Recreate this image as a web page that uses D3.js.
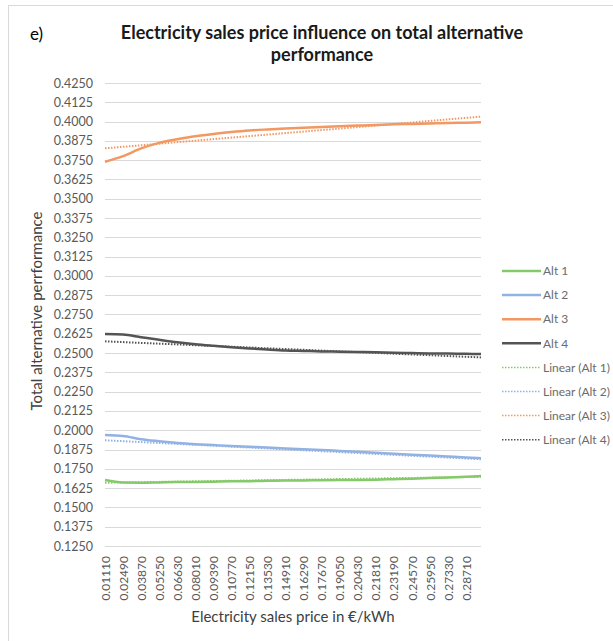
<!DOCTYPE html>
<html>
<head>
<meta charset="utf-8">
<script src="https://cdn.jsdelivr.net/npm/d3@7"></script>
<style>
  body { margin: 0; background: #fff; }
  .chart text { font-family: Lato, "Open Sans", sans-serif; }
  .axis text { fill: #595959; }
</style>
</head>
<body>
<div class="chart" id="chart"></div>
<script>
// x tick labels (electricity sales price in €/kWh)
const priceTicks = [0.01110, 0.02490, 0.03870, 0.05250, 0.06630, 0.08010, 0.09390,
  0.10770, 0.12150, 0.13530, 0.14910, 0.16290, 0.17670, 0.19050, 0.20430,
  0.21810, 0.23190, 0.24570, 0.25950, 0.27330, 0.28710];
// sampled prices at which series values were read (ticks + last point)
const prices = priceTicks.concat([0.29860]);

const alt1 = [0.1677, 0.1661, 0.1660, 0.1662, 0.1664, 0.1665, 0.1667, 0.1669, 0.1670, 0.1672, 0.1674,
  0.1675, 0.1676, 0.1677, 0.1678, 0.1680, 0.1683, 0.1686, 0.1690, 0.1694, 0.1698, 0.1703];
const alt2 = [0.1969, 0.1963, 0.1942, 0.1929, 0.1918, 0.1910, 0.1904, 0.1898, 0.1893, 0.1888, 0.1882,
  0.1877, 0.1872, 0.1866, 0.1860, 0.1854, 0.1848, 0.1842, 0.1836, 0.1830, 0.1824, 0.1818];
const alt3 = [0.3740, 0.3776, 0.3826, 0.3862, 0.3885, 0.3905, 0.3920, 0.3932, 0.3942, 0.3949, 0.3955,
  0.3960, 0.3965, 0.3970, 0.3974, 0.3978, 0.3982, 0.3985, 0.3988, 0.3991, 0.3993, 0.3995];
const alt4 = [0.2623, 0.2620, 0.2603, 0.2586, 0.2570, 0.2557, 0.2547, 0.2538, 0.2530, 0.2523, 0.2517,
  0.2514, 0.2511, 0.2509, 0.2507, 0.2505, 0.2502, 0.2500, 0.2498, 0.2497, 0.2495, 0.2494];

// linear trend lines, start and end values
const trendStart = [0.1660, 0.1935, 0.3827, 0.2576];
const trendEnd = [0.1698, 0.1812, 0.4032, 0.2472];

const seriesNames = ["Alt 1", "Alt 2", "Alt 3", "Alt 4"];
const seriesColors = ["#85c96a", "#93b2e4", "#f29862", "#545454"];

const yTicks = d3.range(0, 25).map(i => 0.125 + i * 0.0125);

const W = 613, H = 641;
const svg = d3.select("#chart").append("svg")
  .attr("width", W).attr("height", H);

// chart frame
svg.append("rect")
  .attr("x", 8.5).attr("y", 5.5)
  .attr("width", W).attr("height", H)
  .attr("fill", "none").attr("stroke", "#d9d9d9");

const x = d3.scaleLinear().domain([0.0111, 0.2986]).range([105, 481]);
const y = d3.scaleLinear().domain([0.125, 0.425]).range([546, 83]);

// gridlines
svg.append("g")
  .selectAll("line")
  .data(yTicks)
  .enter().append("line")
    .attr("x1", x.range()[0]).attr("x2", x.range()[1])
    .attr("y1", d => Math.round(y(d)) + 0.5).attr("y2", d => Math.round(y(d)) + 0.5)
    .attr("stroke", "#d9d9d9").attr("stroke-width", 1);

// y axis labels
const yAxis = svg.append("g")
  .attr("class", "axis")
  .attr("transform", "translate(101,0)")
  .call(d3.axisLeft(y).tickValues(yTicks).tickFormat(d3.format(".4f")).tickSize(0).tickPadding(8));
yAxis.select(".domain").remove();
yAxis.selectAll("text").attr("font-size", 12.5);

// x axis labels, rotated
const xAxis = svg.append("g")
  .attr("class", "axis")
  .attr("transform", "translate(0,546)")
  .call(d3.axisBottom(x).tickValues(priceTicks).tickFormat(d3.format(".5f")).tickSize(0));
xAxis.select(".domain").remove();
xAxis.selectAll("text")
  .attr("font-size", 12)
  .attr("transform", "rotate(-90)")
  .attr("text-anchor", "end")
  .attr("x", -10)
  .attr("y", 0)
  .attr("dy", "0.35em");

const line = d3.line()
  .x((d, i) => x(prices[i]))
  .y(d => y(d))
  .curve(d3.curveMonotoneX);

const allSeries = [alt1, alt2, alt3, alt4];

// trend lines (dotted)
svg.append("g")
  .selectAll("line")
  .data(seriesNames)
  .enter().append("line")
    .attr("x1", x(prices[0])).attr("x2", x(prices[prices.length - 1]))
    .attr("y1", (d, i) => y(trendStart[i]))
    .attr("y2", (d, i) => y(trendEnd[i]))
    .attr("stroke", (d, i) => seriesColors[i])
    .attr("stroke-width", 2)
    .attr("stroke-dasharray", "1.5,1.5");

// series lines
svg.append("g")
  .selectAll("path")
  .data(allSeries)
  .enter().append("path")
    .attr("d", line)
    .attr("fill", "none")
    .attr("stroke", (d, i) => seriesColors[i])
    .attr("stroke-width", 2.5)
    .attr("stroke-linejoin", "round");

// legend
const legendItems = seriesNames.map((n, i) => ({ label: n, color: seriesColors[i], dotted: false }))
  .concat(seriesNames.map((n, i) => ({ label: "Linear (" + n + ")", color: seriesColors[i], dotted: true })));

const legend = svg.append("g")
  .selectAll("g")
  .data(legendItems)
  .enter().append("g")
    .attr("transform", (d, i) => "translate(502," + (271 + i * 24.1) + ")");

legend.append("line")
  .attr("x1", 0).attr("x2", 39)
  .attr("stroke", d => d.color)
  .attr("stroke-width", d => d.dotted ? 1.5 : 2.5)
  .attr("stroke-dasharray", d => d.dotted ? "1.5,1.5" : null);

legend.append("text")
  .attr("x", 41)
  .attr("dy", "0.35em")
  .attr("font-size", 12)
  .attr("fill", "#6b6b6b")
  .text(d => d.label);

// titles
svg.append("text")
  .attr("x", 30).attr("y", 40)
  .attr("font-size", 17)
  .attr("fill", "#000")
  .text("e)");

const title = svg.append("text")
  .attr("text-anchor", "middle")
  .attr("font-size", 18)
  .attr("font-weight", "bold")
  .attr("fill", "#1a1a1a");
title.append("tspan").attr("x", 322).attr("y", 39).text("Electricity sales price influence on total alternative");
title.append("tspan").attr("x", 322).attr("y", 61).text("performance");

svg.append("text")
  .attr("x", 293).attr("y", 622)
  .attr("text-anchor", "middle")
  .attr("font-size", 15)
  .attr("fill", "#404040")
  .text("Electricity sales price in €/kWh");

svg.append("text")
  .attr("transform", "translate(42,311) rotate(-90)")
  .attr("text-anchor", "middle")
  .attr("font-size", 15)
  .attr("fill", "#404040")
  .text("Total alternative perrformance");
</script>
</body>
</html>
